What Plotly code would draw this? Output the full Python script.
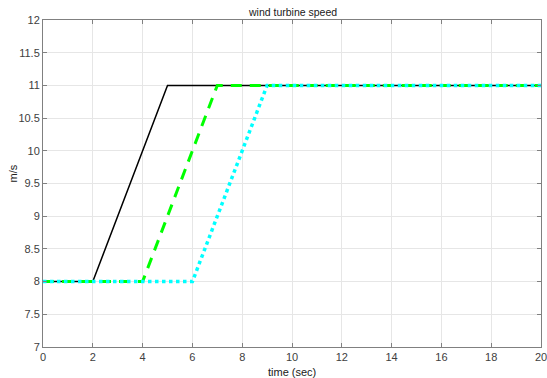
import plotly.graph_objects as go

t_black = [0, 2, 5, 20]
v_black = [8, 8, 11, 11]
t_green = [0, 4, 7, 20]
v_green = [8, 8, 11, 11]
t_cyan = [0, 6, 9, 20]
v_cyan = [8, 8, 11, 11]

x_ticks = list(range(0, 21, 2))
y_ticks = [7, 7.5, 8, 8.5, 9, 9.5, 10, 10.5, 11, 11.5, 12]
y_labels = ["7", "7.5", "8", "8.5", "9", "9.5", "10", "10.5", "11", "11.5", "12"]

FONT = "Liberation Sans, Arial"

fig = go.Figure()
fig.add_trace(go.Scatter(x=t_black, y=v_black, mode="lines",
                         line=dict(color="black", width=1.5)))
fig.add_trace(go.Scatter(x=t_green, y=v_green, mode="lines",
                         line=dict(color="#00ff00", width=3, dash="11px,8px")))
fig.add_trace(go.Scatter(x=t_cyan, y=v_cyan, mode="lines",
                         line=dict(color="#00ffff", width=3.5, dash="dot")))

axis_common = dict(showline=True, linecolor="#808080", linewidth=1, mirror="ticks",
                   ticks="inside", ticklen=4, tickcolor="#808080",
                   showgrid=True, gridcolor="#e6e6e6", gridwidth=1, zeroline=False,
                   automargin=False, ticklabeloverflow="allow",
                   tickfont=dict(family=FONT, size=11, color="#404040"))

fig.update_layout(
    width=547, height=378,
    margin=dict(l=43, r=6, t=20, b=31),
    paper_bgcolor="white", plot_bgcolor="white",
    showlegend=False,
    xaxis=dict(range=[0, 20], tickvals=x_ticks, **axis_common),
    yaxis=dict(range=[7, 12], tickvals=y_ticks, ticktext=y_labels, **axis_common),
    annotations=[
        dict(text="wind turbine speed", xref="paper", yref="paper", x=0.5, y=1,
             xanchor="center", yanchor="middle", yshift=8, showarrow=False,
             font=dict(family=FONT, size=10.5, color="#202020")),
        dict(text="time (sec)", xref="paper", yref="paper", x=0.5, y=0,
             xanchor="center", yanchor="middle", yshift=-25, showarrow=False,
             font=dict(family=FONT, size=11, color="#202020")),
        dict(text="m/s", xref="paper", yref="paper", x=0, y=0.5,
             xanchor="center", yanchor="middle", xshift=-31, yshift=10, textangle=-90,
             showarrow=False, font=dict(family=FONT, size=11, color="#202020")),
    ],
)

fig.write_html("out.html", config={"displayModeBar": False},
               post_script="document.body.style.margin='0';document.body.style.overflow='hidden';")
